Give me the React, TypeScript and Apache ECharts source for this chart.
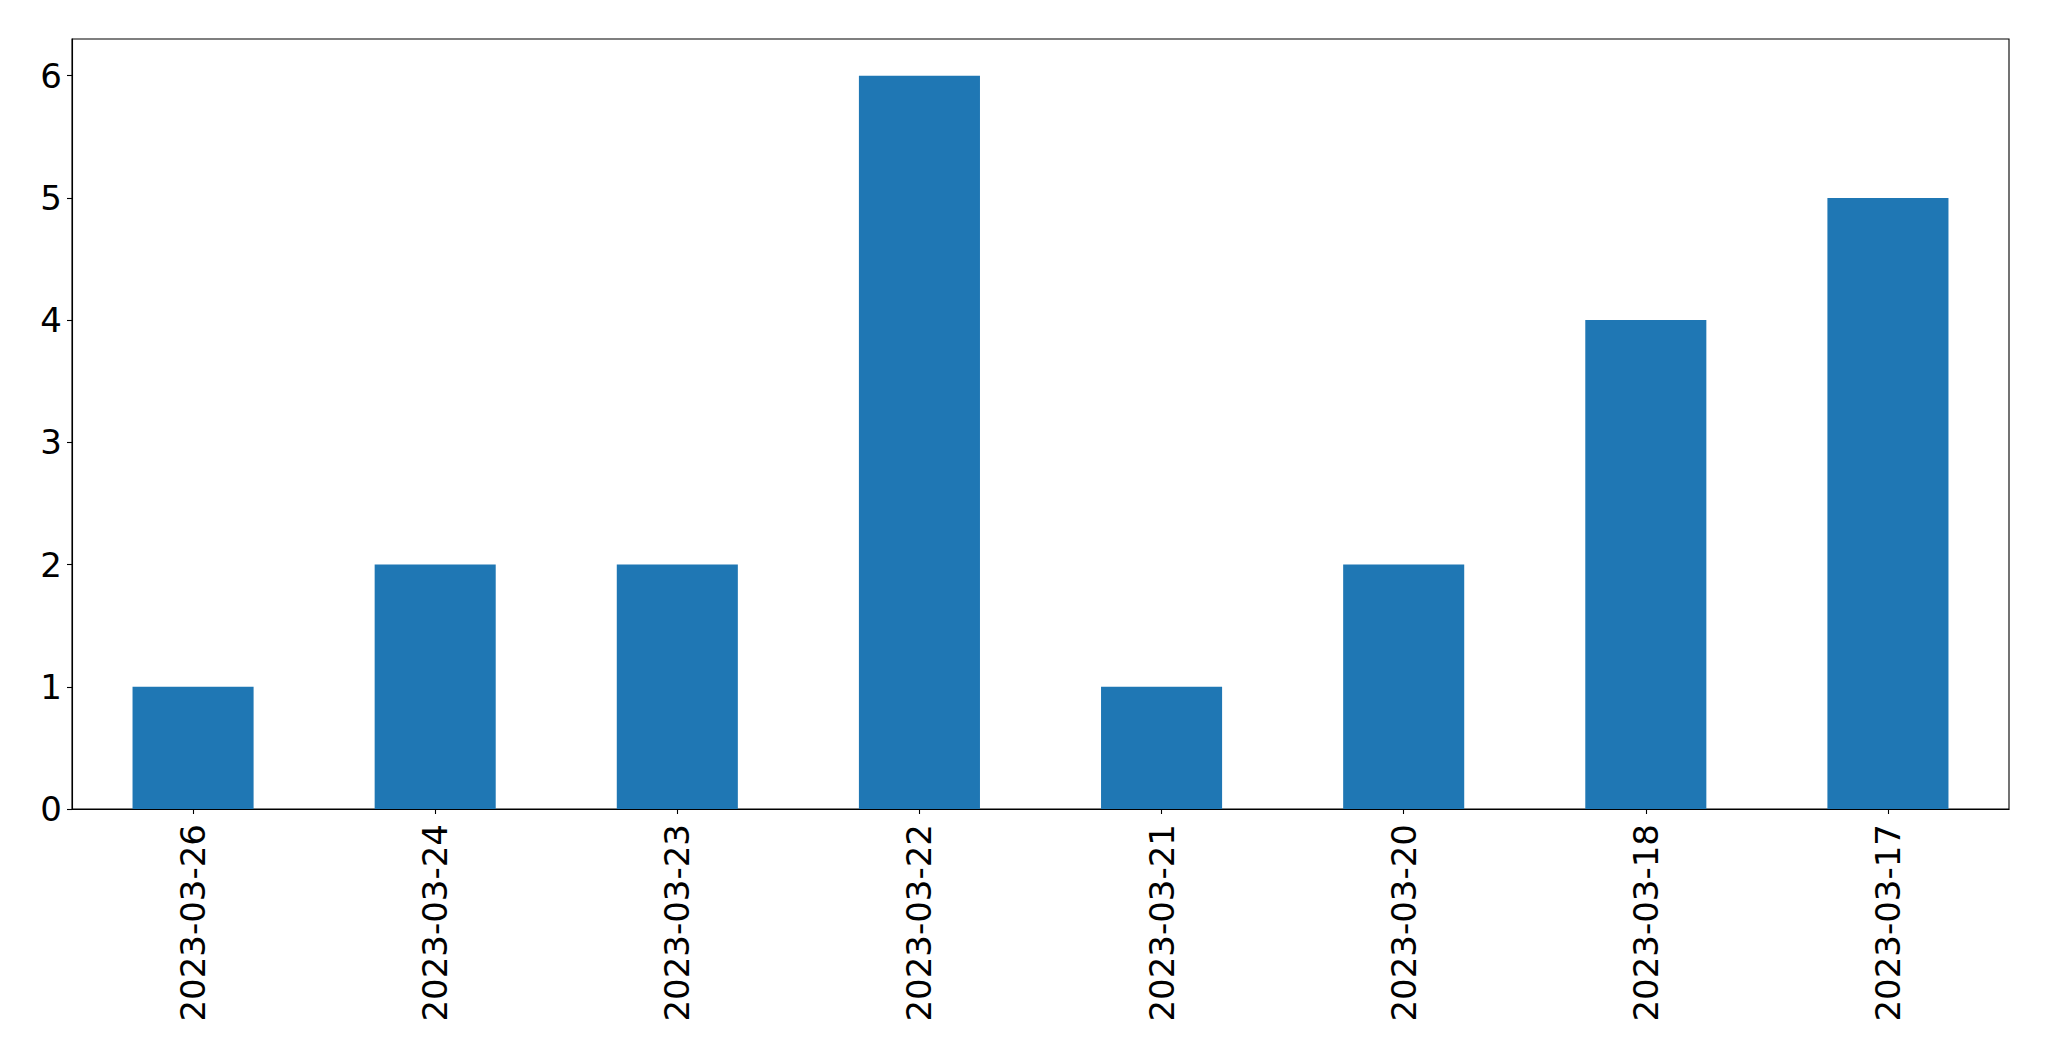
import React, { useEffect, useRef } from "react";
import * as echarts from "echarts";

const categories = [
  "2023-03-26",
  "2023-03-24",
  "2023-03-23",
  "2023-03-22",
  "2023-03-21",
  "2023-03-20",
  "2023-03-18",
  "2023-03-17",
];
const values = [1, 2, 2, 6, 1, 2, 4, 5];
const yTicks = [0, 1, 2, 3, 4, 5, 6];

export default function App() {
  const ref = useRef<HTMLDivElement>(null);
  useEffect(() => {
    if (!ref.current) return;
    const chart = echarts.init(ref.current, null, { renderer: "svg" });
    const font = "DejaVu Sans";
    chart.setOption({
      animation: false,
      backgroundColor: "#ffffff",
      grid: {
        left: 72,
        right: 40,
        top: 39,
        bottom: 252,
        show: true,
        borderColor: "#000000",
        borderWidth: 1.1,
        containLabel: false,
      },
      xAxis: {
        type: "category",
        data: categories,
        axisLine: { show: true, lineStyle: { color: "#000", width: 1.1 } },
        axisTick: {
          show: true,
          alignWithLabel: true,
          length: 5,
          lineStyle: { color: "#000", width: 1.1 },
        },
        axisLabel: {
          rotate: 90,
          margin: 15,
          fontSize: 34,
          fontFamily: font,
          color: "#000",
          interval: 0,
        },
        splitLine: { show: false },
      },
      yAxis: {
        type: "value",
        min: 0,
        max: 6.3,
        interval: 1,
        axisLine: { show: true, lineStyle: { color: "#000", width: 1.1 } },
        axisTick: {
          show: true,
          length: 5,
          lineStyle: { color: "#000", width: 1.1 },
          customValues: yTicks,
        },
        axisLabel: {
          margin: 10,
          fontSize: 34,
          fontFamily: font,
          color: "#000",
          customValues: yTicks,
        },
        splitLine: { show: false },
      },
      series: [
        {
          type: "bar",
          data: values,
          barWidth: "50%",
          itemStyle: { color: "#1f77b4" },
        },
      ],
    });
    return () => chart.dispose();
  }, []);
  return (
    <div
      ref={ref}
      style={{ position: "fixed", left: 0, top: 0, width: 2049, height: 1061, background: "#fff" }}
    />
  );
}
